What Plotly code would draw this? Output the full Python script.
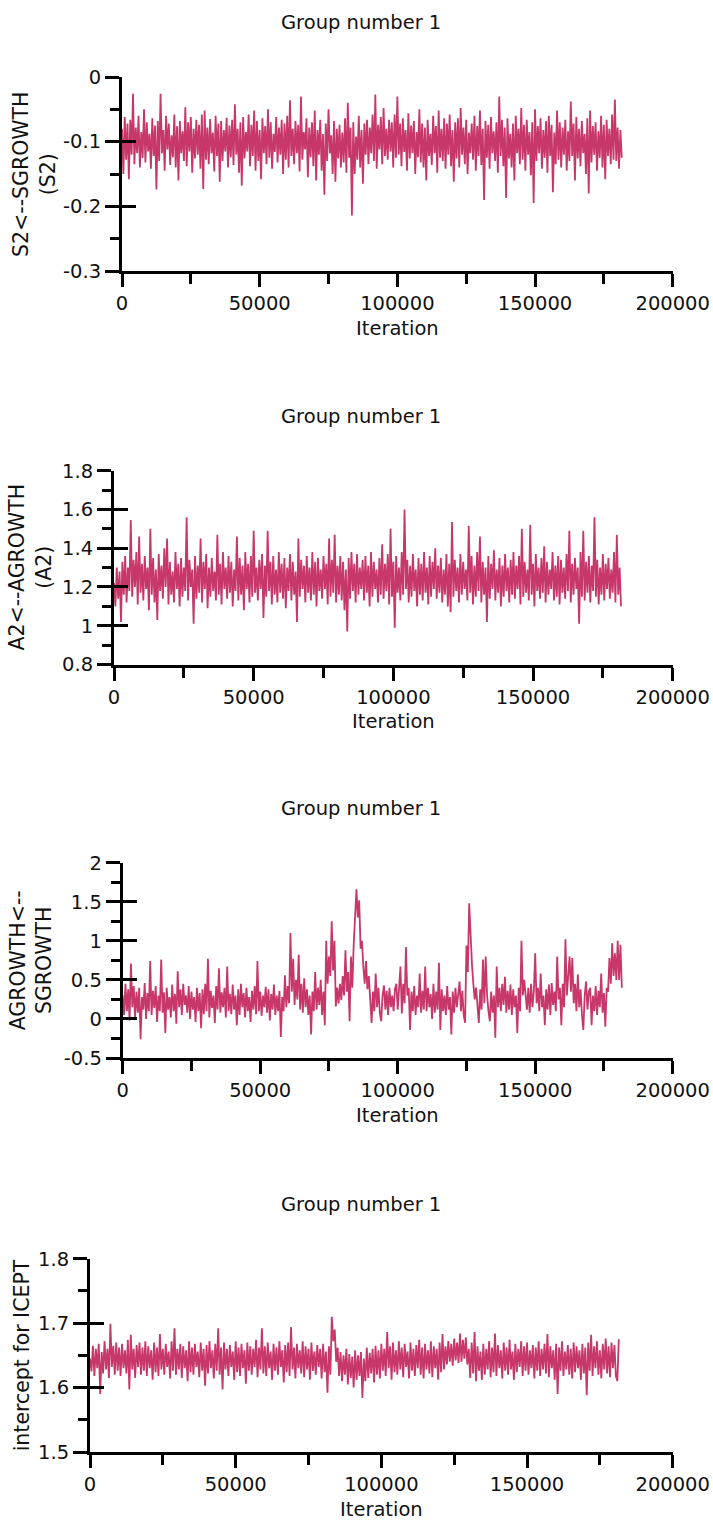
import plotly.graph_objects as go

# ---------------- data ----------------
ITER_STEP = 500  # iterations between kept samples

s2_values = [
    -0.080, -0.150, -0.062, -0.128, -0.072, -0.158, -0.066, -0.120, -0.026, -0.135, -0.078, -0.118, -0.060, -0.140, -0.085, -0.125, -0.050, -0.132, -0.070, -0.115,
    -0.088, -0.142, -0.064, -0.122, -0.075, -0.174, -0.068, -0.130, -0.026, -0.118, -0.082, -0.145, -0.060, -0.112, -0.072, -0.136, -0.090, -0.124, -0.058, -0.140,
    -0.076, -0.160, -0.068, -0.118, -0.084, -0.130, -0.047, -0.138, -0.070, -0.115, -0.062, -0.148, -0.080, -0.126, -0.066, -0.120, -0.074, -0.142, -0.058, -0.173,
    -0.052, -0.128, -0.078, -0.135, -0.065, -0.118, -0.086, -0.146, -0.060, -0.122, -0.072, -0.162, -0.068, -0.130, -0.082, -0.115, -0.063, -0.140, -0.075, -0.124,
    -0.066, -0.136, -0.042, -0.120, -0.080, -0.148, -0.070, -0.168, -0.062, -0.126, -0.085, -0.115, -0.058, -0.138, -0.074, -0.122, -0.052, -0.145, -0.068, -0.130,
    -0.082, -0.158, -0.064, -0.118, -0.076, -0.135, -0.050, -0.125, -0.070, -0.142, -0.088, -0.116, -0.062, -0.132, -0.078, -0.120, -0.066, -0.150, -0.072, -0.128,
    -0.060, -0.140, -0.036, -0.122, -0.080, -0.135, -0.068, -0.118, -0.074, -0.146, -0.030, -0.128, -0.085, -0.112, -0.064, -0.155, -0.078, -0.124, -0.070, -0.138,
    -0.052, -0.160, -0.082, -0.120, -0.066, -0.145, -0.088, -0.182, -0.072, -0.130, -0.050, -0.118, -0.090, -0.150, -0.068, -0.162, -0.080, -0.126, -0.074, -0.140,
    -0.086, -0.132, -0.064, -0.148, -0.040, -0.125, -0.078, -0.214, -0.070, -0.150, -0.092, -0.128, -0.060, -0.140, -0.082, -0.165, -0.072, -0.120, -0.066, -0.135,
    -0.078, -0.118, -0.058, -0.130, -0.027, -0.142, -0.074, -0.112, -0.062, -0.135, -0.048, -0.122, -0.080, -0.128, -0.066, -0.115, -0.070, -0.140, -0.058, -0.125,
    -0.030, -0.120, -0.072, -0.138, -0.064, -0.116, -0.082, -0.145, -0.056, -0.126, -0.075, -0.118, -0.068, -0.150, -0.085, -0.124, -0.050, -0.132, -0.072, -0.140,
    -0.078, -0.160, -0.066, -0.122, -0.088, -0.136, -0.060, -0.118, -0.076, -0.148, -0.052, -0.125, -0.080, -0.130, -0.064, -0.142, -0.072, -0.120, -0.058, -0.138,
    -0.082, -0.162, -0.070, -0.126, -0.064, -0.140, -0.048, -0.120, -0.078, -0.135, -0.066, -0.150, -0.086, -0.118, -0.072, -0.128, -0.060, -0.145, -0.076, -0.122,
    -0.052, -0.136, -0.080, -0.190, -0.068, -0.125, -0.074, -0.142, -0.062, -0.118, -0.084, -0.130, -0.070, -0.148, -0.030, -0.122, -0.066, -0.138, -0.078, -0.187,
    -0.064, -0.126, -0.088, -0.140, -0.072, -0.160, -0.060, -0.118, -0.080, -0.135, -0.048, -0.128, -0.074, -0.145, -0.066, -0.120, -0.085, -0.152, -0.070, -0.195,
    -0.050, -0.130, -0.076, -0.118, -0.064, -0.142, -0.082, -0.125, -0.068, -0.148, -0.060, -0.122, -0.074, -0.178, -0.086, -0.135, -0.052, -0.128, -0.070, -0.140,
    -0.078, -0.120, -0.066, -0.145, -0.084, -0.130, -0.038, -0.122, -0.072, -0.160, -0.062, -0.126, -0.080, -0.138, -0.068, -0.118, -0.088, -0.150, -0.064, -0.180,
    -0.052, -0.132, -0.076, -0.120, -0.070, -0.145, -0.084, -0.125, -0.060, -0.140, -0.074, -0.158, -0.066, -0.122, -0.080, -0.135, -0.058, -0.128, -0.035, -0.130,
    -0.078, -0.142, -0.082, -0.125,
]

a2_values = [
    1.22, 1.10, 1.30, 1.14, 1.28, 1.02, 1.33, 1.16, 1.36, 1.12, 1.30, 1.18, 1.545, 1.15, 1.34, 1.20, 1.38, 1.11, 1.46, 1.17,
    1.32, 1.13, 1.36, 1.19, 1.30, 1.08, 1.50, 1.16, 1.35, 1.12, 1.29, 1.03, 1.37, 1.18, 1.31, 1.14, 1.40, 1.20, 1.45, 1.11,
    1.33, 1.16, 1.28, 1.12, 1.38, 1.19, 1.32, 1.10, 1.35, 1.15, 1.30, 1.18, 1.56, 1.13, 1.34, 1.20, 1.29, 1.01, 1.36, 1.14,
    1.31, 1.17, 1.45, 1.12, 1.33, 1.19, 1.37, 1.09, 1.30, 1.15, 1.35, 1.18, 1.28, 1.13, 1.47, 1.16, 1.32, 1.11, 1.38, 1.19,
    1.30, 1.14, 1.36, 1.17, 1.33, 1.10, 1.29, 1.18, 1.46, 1.13, 1.35, 1.16, 1.31, 1.08, 1.38, 1.19, 1.32, 1.12, 1.36, 1.15,
    1.49, 1.17, 1.30, 1.13, 1.34, 1.19, 1.37, 1.04, 1.31, 1.15, 1.49, 1.18, 1.33, 1.11, 1.36, 1.16, 1.29, 1.12, 1.38, 1.17,
    1.32, 1.14, 1.35, 1.09, 1.30, 1.18, 1.37, 1.13, 1.33, 1.16, 1.28, 1.02, 1.45, 1.15, 1.34, 1.19, 1.31, 1.12, 1.36, 1.17,
    1.30, 1.13, 1.38, 1.16, 1.33, 1.10, 1.35, 1.18, 1.29, 1.14, 1.36, 1.19, 1.32, 1.11, 1.45, 1.15, 1.34, 1.17, 1.47, 1.12,
    1.31, 1.16, 1.36, 1.13, 1.33, 1.08, 1.29, 0.97, 1.35, 1.14, 1.38, 1.18, 1.32, 1.12, 1.37, 1.16, 1.30, 1.19, 1.34, 1.13,
    1.36, 1.17, 1.31, 1.10, 1.38, 1.15, 1.33, 1.19, 1.29, 1.12, 1.35, 1.16, 1.42, 1.14, 1.32, 1.18, 1.37, 1.11, 1.50, 1.15,
    1.33, 0.99, 1.36, 1.17, 1.30, 1.13, 1.38, 1.16, 1.60, 1.19, 1.34, 1.12, 1.31, 1.15, 1.37, 1.18, 1.29, 1.10, 1.35, 1.16,
    1.32, 1.13, 1.38, 1.17, 1.30, 1.11, 1.36, 1.15, 1.33, 1.19, 1.40, 1.14, 1.31, 1.17, 1.35, 1.12, 1.29, 1.16, 1.37, 1.10,
    1.32, 1.07, 1.535, 1.15, 1.34, 1.18, 1.30, 1.12, 1.37, 1.16, 1.33, 1.19, 1.29, 1.13, 1.515, 1.17, 1.36, 1.11, 1.31, 1.15,
    1.38, 1.18, 1.46, 1.12, 1.33, 1.16, 1.30, 1.02, 1.36, 1.14, 1.32, 1.19, 1.39, 1.13, 1.29, 1.17, 1.35, 1.10, 1.31, 1.15,
    1.37, 1.18, 1.30, 1.12, 1.34, 1.16, 1.38, 1.14, 1.31, 1.19, 1.36, 1.11, 1.50, 1.15, 1.33, 1.17, 1.29, 1.13, 1.52, 1.16,
    1.32, 1.10, 1.37, 1.18, 1.30, 1.14, 1.35, 1.17, 1.41, 1.12, 1.33, 1.16, 1.29, 1.19, 1.38, 1.13, 1.31, 1.15, 1.36, 1.11,
    1.34, 1.17, 1.30, 1.14, 1.37, 1.18, 1.49, 1.12, 1.32, 1.16, 1.35, 1.19, 1.30, 1.01, 1.38, 1.15, 1.49, 1.13, 1.33, 1.17,
    1.36, 1.12, 1.31, 1.18, 1.56, 1.15, 1.34, 1.11, 1.30, 1.16, 1.37, 1.13, 1.32, 1.19, 1.35, 1.14, 1.29, 1.17, 1.38, 1.12,
    1.47, 1.16, 1.30, 1.10,
]

ag_values = [
    0.30, 0.05, 0.45, 0.10, 0.38, -0.02, 0.71, 0.15, 0.42, 0.02, 0.35, 0.08, 0.40, -0.26, 0.28, 0.12, 0.46, 0.00, 0.33, 0.10,
    0.74, 0.05, 0.36, 0.14, 0.42, -0.04, 0.30, 0.10, 0.76, 0.08, 0.34, -0.18, 0.40, 0.12, 0.28, 0.02, 0.44, 0.10, 0.32, -0.06,
    0.61, 0.15, 0.38, 0.05, 0.45, 0.18, 0.30, 0.08, 0.42, 0.00, 0.35, 0.12, 0.28, -0.04, 0.40, 0.10, 0.33, -0.12, 0.38, 0.06,
    0.45, 0.10, 0.77, 0.02, 0.36, 0.14, 0.30, -0.05, 0.42, 0.12, 0.65, 0.08, 0.34, 0.15, 0.40, 0.02, 0.67, 0.10, 0.32, 0.06,
    0.44, 0.12, 0.30, -0.08, 0.38, 0.05, 0.45, 0.15, 0.33, 0.02, 0.40, 0.10, 0.28, -0.04, 0.36, 0.12, 0.42, 0.06, 0.74, 0.10,
    0.35, 0.04, 0.30, 0.15, 0.41, 0.08, 0.38, -0.02, 0.32, 0.12, 0.44, 0.05, 0.30, 0.10, 0.36, -0.23, 0.28, 0.10, 0.56, 0.15,
    0.42, 0.20, 1.10, 0.35, 0.77, 0.18, 0.50, 0.25, 0.82, 0.12, 0.45, 0.08, 0.52, 0.15, 0.38, 0.05, 0.30, -0.20, 0.35, 0.10,
    0.60, 0.12, 0.40, 0.18, 0.50, 0.05, 0.35, -0.08, 1.00, 0.45, 0.80, 0.55, 1.25, 0.62, 1.00, 0.16, 0.40, 0.20, 0.45, 0.24,
    0.55, 0.30, 0.88, 0.35, 0.60, -0.03, 0.80, 0.40, 0.95, 1.23, 1.66, 1.30, 1.52, 0.90, 1.00, 0.67, 0.45, 0.74, 0.38, 0.55,
    0.16, -0.05, 0.35, 0.10, 0.58, 0.15, 0.40, 0.08, -0.03, 0.30, 0.43, 0.12, 0.36, 0.05, 0.40, 0.15, 0.30, 0.10, 0.38, 0.45,
    0.12, 0.35, 0.67, 0.07, 0.45, 0.20, 0.92, 0.30, 0.40, -0.14, 0.35, 0.10, 0.42, 0.05, 0.30, 0.15, 0.58, 0.08, 0.36, 0.12,
    0.67, 0.10, 0.40, 0.15, 0.32, 0.00, 0.45, 0.08, 0.35, 0.12, 0.72, -0.14, 0.38, 0.10, 0.30, 0.05, 0.42, 0.12, 0.28, -0.20,
    0.35, 0.08, 0.40, 0.15, 0.30, 0.48, 0.10, 0.36, 0.05, -0.05, 0.94, 0.60, 1.48, 0.96, 0.70, 0.45, 0.25, 0.40, 0.10, -0.05,
    0.38, 0.12, 0.76, 0.20, 0.80, 0.30, 0.10, -0.03, 0.35, 0.08, 0.30, -0.24, 0.67, 0.15, 0.40, 0.10, 0.45, 0.18, 0.54, 0.08,
    0.36, 0.12, 0.44, 0.05, 0.38, 0.15, 0.30, -0.18, 0.40, 0.10, 1.00, 0.30, 0.50, 0.33, 0.12, 0.40, 0.08, 0.45, 0.15, 0.35,
    0.84, 0.20, 0.40, 0.10, 0.58, 0.15, 0.30, -0.08, 0.38, 0.12, 0.44, 0.05, 0.46, 0.18, 0.35, 0.10, 0.80, 0.25, 0.40, -0.08,
    0.45, 0.15, 1.02, 0.30, 0.55, 0.80, 0.35, 0.78, 0.20, 0.45, 0.10, 0.57, 0.15, 0.38, 0.05, -0.14, 0.30, 0.48, 0.12, 0.35,
    0.40, -0.08, 0.30, 0.10, 0.42, 0.05, 0.36, 0.15, 0.58, 0.08, 0.33, -0.10, 0.40, 0.35, 0.78, 0.45, 0.97, 0.55, 0.84, 0.50,
    1.00, 0.50, 0.95, 0.40,
]

icept_values = [
    1.645, 1.625, 1.665, 1.618, 1.660, 1.630, 1.668, 1.590, 1.655, 1.622, 1.672, 1.628, 1.660, 1.615, 1.699, 1.632, 1.665, 1.620, 1.670, 1.626,
    1.662, 1.618, 1.668, 1.630, 1.658, 1.622, 1.674, 1.597, 1.682, 1.628, 1.660, 1.615, 1.666, 1.632, 1.670, 1.620, 1.662, 1.626, 1.672, 1.618,
    1.664, 1.630, 1.658, 1.612, 1.670, 1.624, 1.662, 1.618, 1.683, 1.628, 1.660, 1.620, 1.668, 1.632, 1.656, 1.614, 1.672, 1.626, 1.692, 1.620,
    1.660, 1.628, 1.668, 1.615, 1.664, 1.630, 1.658, 1.610, 1.672, 1.624, 1.662, 1.620, 1.668, 1.632, 1.656, 1.616, 1.670, 1.626, 1.660, 1.603,
    1.666, 1.622, 1.672, 1.630, 1.658, 1.614, 1.668, 1.626, 1.692, 1.620, 1.662, 1.597, 1.670, 1.628, 1.660, 1.618, 1.666, 1.632, 1.656, 1.612,
    1.672, 1.624, 1.662, 1.618, 1.668, 1.630, 1.658, 1.606, 1.670, 1.626, 1.664, 1.620, 1.660, 1.632, 1.674, 1.616, 1.662, 1.628, 1.692, 1.622,
    1.664, 1.618, 1.670, 1.630, 1.656, 1.612, 1.668, 1.626, 1.662, 1.620, 1.672, 1.632, 1.658, 1.608, 1.666, 1.624, 1.670, 1.618, 1.694, 1.628,
    1.662, 1.614, 1.668, 1.630, 1.658, 1.622, 1.672, 1.616, 1.664, 1.628, 1.660, 1.612, 1.670, 1.626, 1.656, 1.620, 1.666, 1.632, 1.660, 1.614,
    1.668, 1.624, 1.656, 1.592, 1.664, 1.620, 1.710, 1.672, 1.690, 1.640, 1.662, 1.618, 1.655, 1.610, 1.650, 1.620, 1.660, 1.605, 1.652, 1.615,
    1.648, 1.600, 1.658, 1.612, 1.650, 1.618, 1.655, 1.584, 1.645, 1.610, 1.662, 1.615, 1.654, 1.622, 1.660, 1.608, 1.665, 1.620, 1.658, 1.614,
    1.668, 1.626, 1.660, 1.618, 1.686, 1.630, 1.664, 1.612, 1.670, 1.624, 1.658, 1.620, 1.672, 1.628, 1.662, 1.616, 1.668, 1.632, 1.656, 1.614,
    1.670, 1.626, 1.660, 1.618, 1.666, 1.630, 1.674, 1.620, 1.662, 1.614, 1.668, 1.628, 1.658, 1.622, 1.672, 1.616, 1.664, 1.630, 1.660, 1.612,
    1.670, 1.624, 1.683, 1.628, 1.664, 1.636, 1.672, 1.640, 1.668, 1.634, 1.676, 1.642, 1.670, 1.638, 1.684, 1.640, 1.674, 1.645, 1.678, 1.636,
    1.660, 1.615, 1.670, 1.622, 1.686, 1.610, 1.664, 1.626, 1.656, 1.612, 1.668, 1.620, 1.660, 1.628, 1.672, 1.616, 1.662, 1.624, 1.684, 1.618,
    1.666, 1.630, 1.658, 1.614, 1.670, 1.626, 1.662, 1.620, 1.674, 1.628, 1.656, 1.612, 1.668, 1.624, 1.660, 1.632, 1.672, 1.618, 1.664, 1.626,
    1.670, 1.620, 1.658, 1.630, 1.666, 1.614, 1.662, 1.626, 1.672, 1.618, 1.660, 1.628, 1.668, 1.622, 1.683, 1.616, 1.664, 1.630, 1.658, 1.612,
    1.668, 1.590, 1.662, 1.626, 1.672, 1.618, 1.656, 1.628, 1.666, 1.620, 1.660, 1.614, 1.670, 1.624, 1.664, 1.630, 1.658, 1.612, 1.668, 1.622,
    1.662, 1.588, 1.670, 1.626, 1.682, 1.618, 1.664, 1.630, 1.672, 1.620, 1.658, 1.614, 1.668, 1.628, 1.676, 1.622, 1.664, 1.616, 1.670, 1.630,
    1.666, 1.618, 1.610, 1.675,
]

x_tick_vals = [0, 50000, 100000, 150000, 200000]
x_tick_text = ["0", "50000", "100000", "150000", "200000"]
x_minor_vals = [25000, 75000, 125000, 175000]

s2_tick_vals = [0, -0.1, -0.2, -0.3]
s2_tick_text = ["0", "-0.1", "-0.2", "-0.3"]
s2_minor_vals = [-0.05, -0.15, -0.25]

a2_tick_vals = [0.8, 1.0, 1.2, 1.4, 1.6, 1.8]
a2_tick_text = ["0.8", "1", "1.2", "1.4", "1.6", "1.8"]
a2_minor_vals = [0.9, 1.1, 1.3, 1.5, 1.7]

ag_tick_vals = [-0.5, 0, 0.5, 1.0, 1.5, 2.0]
ag_tick_text = ["-0.5", "0", "0.5", "1", "1.5", "2"]
ag_minor_vals = [-0.25, 0.25, 0.75, 1.25, 1.75]

icept_tick_vals = [1.5, 1.6, 1.7, 1.8]
icept_tick_text = ["1.5", "1.6", "1.7", "1.8"]
icept_minor_vals = [1.55, 1.65, 1.75]

panel_title = "Group number 1"
x_title = "Iteration"

# ---------------- layout / styling ----------------
W, H = 713, 1522
FONT = "DejaVu Sans"
LINE_COLOR = "#C8376A"
TXT = "#111111"


def fx(px):
    return px / W


def fy(py):
    return 1 - py / H


panels = [
    dict(values=s2_values, tv=s2_tick_vals, tt=s2_tick_text, mv=s2_minor_vals, yr=[-0.3, 0.0],
         ytitle="S2<--SGROWTH<br>(S2)", left=122, top=77, bottom=271, ytx=34),
    dict(values=a2_values, tv=a2_tick_vals, tt=a2_tick_text, mv=a2_minor_vals, yr=[0.8, 1.8],
         ytitle="A2<--AGROWTH<br>(A2)", left=114, top=470.7, bottom=664.5, ytx=31),
    dict(values=ag_values, tv=ag_tick_vals, tt=ag_tick_text, mv=ag_minor_vals, yr=[-0.5, 2.0],
         ytitle="AGROWTH<--<br>SGROWTH", left=122.7, top=862.7, bottom=1058, ytx=31),
    dict(values=icept_values, tv=icept_tick_vals, tt=icept_tick_text, mv=icept_minor_vals, yr=[1.5, 1.8],
         ytitle="intercept for ICEPT", left=90, top=1258.7, bottom=1452, ytx=22),
]
RIGHT = 672.7

fig = go.Figure()
layout = dict(
    width=W, height=H,
    margin=dict(l=0, r=0, t=0, b=0),
    paper_bgcolor="white", plot_bgcolor="white",
    showlegend=False, hovermode=False,
    font=dict(family=FONT, size=19.5, color=TXT),
)
annotations = []
n = len(panels)
for k, p in enumerate(panels, start=1):
    xs = "" if k == 1 else str(k)
    ys = "" if k == 1 else str(k)
    yo = str(k + n)
    iterations = [i * ITER_STEP for i in range(len(p["values"]))]
    fig.add_trace(go.Scatter(
        x=iterations, y=p["values"], mode="lines",
        line=dict(color=LINE_COLOR, width=1.8),
        xaxis="x" + xs, yaxis="y" + ys, hoverinfo="skip",
    ))
    fig.add_trace(go.Scatter(x=[None], y=[None], mode="lines", xaxis="x" + xs, yaxis="y" + yo,
                             hoverinfo="skip"))
    dom_x = [fx(p["left"]), fx(RIGHT)]
    dom_y = [fy(p["bottom"]), fy(p["top"])]
    layout["xaxis" + xs] = dict(
        domain=dom_x, range=[0, 200000], anchor="y" + ys,
        tickmode="array", tickvals=x_tick_vals, ticktext=x_tick_text,
        ticks="outside", ticklen=13, tickwidth=3, tickcolor="black",
        minor=dict(tickmode="array", tickvals=x_minor_vals, ticks="outside",
                   ticklen=10, tickwidth=3, tickcolor="black", showgrid=False),
        showline=True, linewidth=3, linecolor="black",
        showgrid=False, zeroline=False, automargin=False, fixedrange=True,
        tickfont=dict(family=FONT, size=19.5, color=TXT),
    )
    layout["yaxis" + ys] = dict(
        domain=dom_y, range=p["yr"], anchor="x" + xs,
        tickmode="array", tickvals=p["tv"], ticktext=p["tt"],
        ticks="outside", ticklen=14, tickwidth=3, tickcolor="black",
        minor=dict(tickmode="array", tickvals=p["mv"], ticks="outside",
                   ticklen=9, tickwidth=3, tickcolor="black", showgrid=False),
        showline=True, linewidth=3, linecolor="black",
        showgrid=False, zeroline=False, automargin=False, fixedrange=True,
        tickfont=dict(family=FONT, size=19.5, color=TXT),
    )
    layout["yaxis" + yo] = dict(
        overlaying="y" + ys, anchor="x" + xs, side="left", range=p["yr"],
        tickmode="array", tickvals=p["tv"], ticks="inside", ticklen=14,
        tickwidth=3, tickcolor="black", showticklabels=False,
        showline=False, showgrid=False, zeroline=False, fixedrange=True,
    )
    annotations.append(dict(
        text=panel_title, xref="paper", yref="paper", x=fx(361), y=fy(p["top"] - 54.5),
        xanchor="center", yanchor="middle", showarrow=False,
        font=dict(family=FONT, size=19.5, color=TXT),
    ))
    annotations.append(dict(
        text=x_title, xref="paper", yref="paper", x=fx((p["left"] + RIGHT) / 2),
        y=fy(p["bottom"] + 57), xanchor="center", yanchor="middle", showarrow=False,
        font=dict(family=FONT, size=19.5, color=TXT),
    ))
    annotations.append(dict(
        text=p["ytitle"], xref="paper", yref="paper", x=fx(p["ytx"]),
        y=fy((p["top"] + p["bottom"]) / 2), xanchor="center", yanchor="middle",
        showarrow=False, textangle=-90,
        font=dict(family=FONT, size=20.5, color=TXT),
    ))

layout["annotations"] = annotations
fig.update_layout(**layout)
fig.write_html(
    "out.html",
    config={"displayModeBar": False, "staticPlot": True},
    post_script="document.body.style.margin='0px';document.body.style.overflow='hidden';",
)
